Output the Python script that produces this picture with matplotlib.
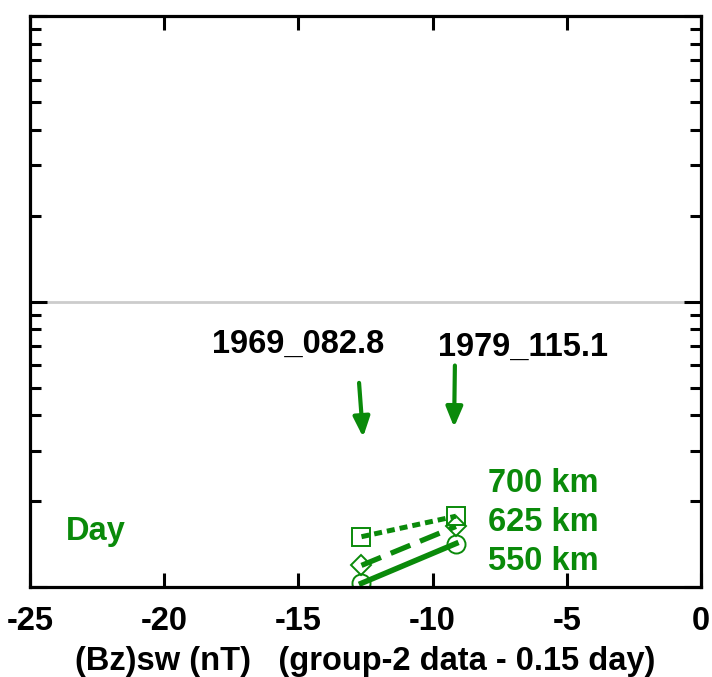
import matplotlib
matplotlib.use('Agg')
import matplotlib.pyplot as plt
from matplotlib.ticker import LogLocator, NullFormatter

plt.rcParams['font.family'] = ['Liberation Sans', 'DejaVu Sans']
plt.rcParams['font.weight'] = 'bold'

green = '#0a8a0a'
fs = 23.5

# data
bz = [-12.65, -9.13]
alt_labels = ['700 km', '625 km', '550 km']
y_700 = [1.50, 1.77]
y_625 = [1.19, 1.63]
y_550 = [1.03, 1.42]
events = ['1969_082.8', '1979_115.1']
event_text_x = [-15.0, -6.63]
event_text_y = [7.08, 6.91]
arrow_tail = [(-12.74, 5.19), (-9.17, 5.97)]
arrow_tip = [(-12.59, 3.35), (-9.20, 3.63)]
xticks = [-25, -20, -15, -10, -5, 0]

fig = plt.figure(figsize=(7.12, 6.77), dpi=100)
ax = fig.add_axes([0.0421, 0.133, 0.9425, 0.843])
ax.set_xlim(-25, 0)
ax.set_yscale('log')
ax.set_ylim(1, 100)

ax.axhline(10, color='#cccccc', lw=2, zorder=1)

ax.plot(bz, y_700, color=green, lw=3.6, dashes=(1.6, 1.0), marker='s', ms=13,
        mfc='none', mec=green, mew=1.4)
ax.plot(bz, y_625, color=green, lw=3.8, dashes=(4.0, 2.0), marker='D', ms=10.5,
        mfc='none', mec=green, mew=1.4)
ax.plot(bz, y_550, color=green, lw=4, ls='-', marker='o', ms=13,
        mfc='none', mec=green, mew=1.4)

for lab, yy in zip(alt_labels, [2.30, 1.685, 1.226]):
    ax.text(-7.95, yy, lab, color=green, fontsize=fs, fontweight='bold',
            va='center', ha='left')
ax.text(-23.65, 1.566, 'Day', color=green, fontsize=fs, fontweight='bold',
        va='center', ha='left')

for name, tx, ty, tail, tip in zip(events, event_text_x, event_text_y, arrow_tail, arrow_tip):
    ax.text(tx, ty, name, fontsize=fs, fontweight='bold', ha='center', va='center')
    ax.annotate('', xy=tip, xytext=tail,
                arrowprops=dict(arrowstyle='-|>,head_length=1.2,head_width=0.5',
                                color=green, lw=3, shrinkA=0, shrinkB=0))

ax.set_xticks(xticks)
ax.set_xticklabels([str(t) for t in xticks])
ax.yaxis.set_major_locator(LogLocator(base=10, numticks=10))
ax.yaxis.set_minor_locator(LogLocator(base=10, subs=range(2, 10), numticks=10))
ax.yaxis.set_major_formatter(NullFormatter())
ax.yaxis.set_minor_formatter(NullFormatter())

ax.tick_params(axis='x', which='major', direction='in', length=10, width=2.2,
               top=True, bottom=True, labelsize=fs, pad=14)
ax.tick_params(axis='y', which='major', direction='in', length=12, width=2.2,
               left=True, right=True)
ax.tick_params(axis='y', which='minor', direction='in', length=8, width=2.2,
               left=True, right=True)
for lbl in ax.get_xticklabels():
    lbl.set_fontweight('bold')

for s in ax.spines.values():
    s.set_linewidth(2.3)

ax.set_xlabel('(Bz)sw (nT)   (group-2 data - 0.15 day)', fontsize=fs,
              fontweight='bold', labelpad=6)

fig.savefig('out.png', dpi=100)
